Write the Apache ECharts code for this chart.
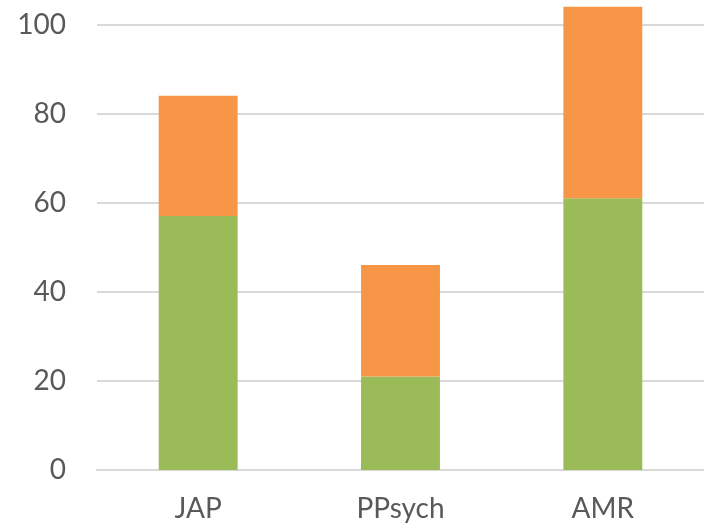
<!DOCTYPE html>
<html>
<head>
<meta charset="utf-8">
<script src="https://cdn.jsdelivr.net/npm/echarts@6/dist/echarts.min.js"></script>
<style>
  html, body { margin: 0; padding: 0; background: #fff; }
  #chart { width: 704px; height: 523px; }
</style>
</head>
<body>
<div id="chart"></div>
<script>
// Journals on the category axis
const categories = ['JAP', 'PPsych', 'AMR'];
// Lower (green) and upper (orange) stacked segments
const greenValues = [57, 21, 61];
const orangeValues = [27, 25, 43];
// Value axis range and tick step (the top edge sits just above 100)
const yMin = 0;
const yMax = 105.5;
const yStep = 20;

const chart = echarts.init(document.getElementById('chart'), null, { renderer: 'canvas' });

const textColor = '#595959';
const gridColor = '#d9d9d9';
const fontFamily = 'Lato, "Open Sans", sans-serif';

chart.setOption({
  animation: false,
  backgroundColor: '#ffffff',
  grid: {
    left: 97,
    right: 0,
    top: 0,
    bottom: 52.3,
    containLabel: false
  },
  xAxis: {
    type: 'category',
    data: categories,
    axisLine: { show: true, lineStyle: { color: gridColor, width: 2 } },
    axisTick: { show: false },
    axisLabel: {
      color: textColor,
      fontSize: 28,
      fontFamily: fontFamily,
      margin: 25
    }
  },
  yAxis: {
    type: 'value',
    min: yMin,
    max: yMax,
    interval: yStep,
    axisLine: { show: false },
    axisTick: { show: false },
    splitLine: {
      show: true,
      showMaxLine: false,
      lineStyle: { color: gridColor, width: 2 }
    },
    axisLabel: {
      color: textColor,
      fontSize: 28,
      fontFamily: fontFamily,
      margin: 31,
      showMaxLabel: false
    }
  },
  series: [
    {
      name: 'green',
      type: 'bar',
      stack: 'total',
      barWidth: '39%',
      data: greenValues,
      itemStyle: { color: '#9bbb59' }
    },
    {
      name: 'orange',
      type: 'bar',
      stack: 'total',
      barWidth: '39%',
      data: orangeValues,
      itemStyle: { color: '#f79646' }
    }
  ]
});
</script>
</body>
</html>
